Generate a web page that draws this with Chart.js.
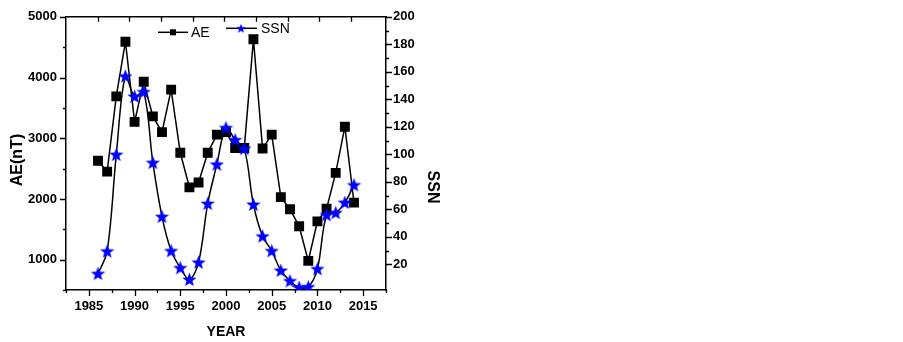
<!DOCTYPE html>
<html>
<head>
<meta charset="utf-8">
<script src="https://cdn.jsdelivr.net/npm/chart.js@4.4.0/dist/chart.umd.min.js"></script>
<style>
  html, body { margin: 0; padding: 0; background: #fff; }
  #wrap { width: 903px; height: 342px; position: relative; }
</style>
</head>
<body>
<div id="wrap"><canvas id="chart"></canvas></div>
<script>
// years 1986..2014
const years = [1986, 1987, 1988, 1989, 1990, 1991, 1992, 1993, 1994, 1995,
    1996, 1997, 1998, 1999, 2000, 2001, 2002, 2003, 2004, 2005,
    2006, 2007, 2008, 2009, 2010, 2011, 2012, 2013, 2014];

// AE index, nT (left axis)
const aeValues = [2630, 2450, 3690, 4590, 3270, 3930, 3360, 3100, 3800, 2760,
    2190, 2270, 2760, 3060, 3100, 2840, 2840, 4630, 2830, 3060,
    2030, 1830, 1550, 980, 1630, 1840, 2430, 3190, 1940];

// sunspot number (right axis)
const ssnValues = [13.2, 29.5, 99.8, 156.8, 142.1, 145.4, 93.9, 54.7, 29.8, 17.4,
    8.9, 21.4, 64.2, 92.7, 119.3, 110.5, 104.1, 63.5, 40.4, 29.8,
    15.5, 7.9, 3.2, 3.6, 16.7, 55.9, 57.5, 64.9, 77.7];

const xTickLabels = ['1985', '1990', '1995', '2000', '2005', '2010', '2015'];
const aeTickLabels = ['1000', '2000', '3000', '4000', '5000'];
const ssnTickLabels = ['20', '40', '60', '80', '100', '120', '140', '160', '180', '200'];

const FONT = "'Liberation Sans', Arial, sans-serif";

// синяя закрашенная звезда как pointStyle
function makeStar(size, color) {
    const c = document.createElement('canvas');
    c.width = size;
    c.height = size;
    const g = c.getContext('2d');
    const cx = size / 2, cy = size / 2 + 0.5;
    const outer = size / 2, inner = outer * 0.42;
    g.beginPath();
    for (let i = 0; i < 10; i++) {
        const r = i % 2 === 0 ? outer : inner;
        const a = -Math.PI / 2 + i * Math.PI / 5;
        const px = cx + r * Math.cos(a), py = cy + r * Math.sin(a);
        if (i === 0) g.moveTo(px, py); else g.lineTo(px, py);
    }
    g.closePath();
    g.fillStyle = color;
    g.fill();
    return c;
}

const starBig = makeStar(15, '#0000ff');
const starSmall = makeStar(10, '#0000ff');

const isMult = (v, m) => Math.abs(v / m - Math.round(v / m)) < 1e-6;

// засечки: внешние на левой/правой/нижней осях, внутренние сверху
const ticksPlugin = {
    id: 'axisTicks',
    afterDraw(chart) {
        const ctx = chart.ctx;
        const a = chart.chartArea;
        const { x, y, y1, x2 } = chart.scales;
        ctx.save();
        ctx.strokeStyle = '#000';
        ctx.lineWidth = 1.3;
        ctx.beginPath();
        x.ticks.forEach(t => {
            if (!isMult(t.value, 2.5)) return;
            const px = Math.round(x.getPixelForValue(t.value)) + 0.5;
            const len = isMult(t.value, 5) ? 6 : 3;
            ctx.moveTo(px, a.bottom);
            ctx.lineTo(px, a.bottom + len);
        });
        y.ticks.forEach(t => {
            if (!isMult(t.value, 500)) return;
            const py = Math.round(y.getPixelForValue(t.value)) + 0.5;
            const len = isMult(t.value, 1000) ? 6 : 3;
            ctx.moveTo(a.left, py);
            ctx.lineTo(a.left - len, py);
        });
        y1.ticks.forEach(t => {
            if (!isMult(t.value, 10)) return;
            const py = Math.round(y1.getPixelForValue(t.value)) + 0.5;
            const len = isMult(t.value, 20) ? 6 : 3;
            ctx.moveTo(a.right, py);
            ctx.lineTo(a.right + len, py);
        });
        x2.ticks.forEach(t => {
            if (!isMult(t.value, 1) || t.value < 0) return;
            const px = Math.round(x2.getPixelForValue(t.value)) + 0.5;
            ctx.moveTo(px, a.top);
            ctx.lineTo(px, a.top + 5);
        });
        ctx.stroke();
        ctx.restore();
    }
};

// легенда внутри области графика + подписи осей Y
const legendPlugin = {
    id: 'innerLegend',
    afterDraw(chart) {
        const ctx = chart.ctx;
        const a = chart.chartArea;
        ctx.save();
        ctx.strokeStyle = '#000';
        ctx.lineWidth = 1.5;
        ctx.fillStyle = '#000';
        ctx.font = '14px ' + FONT;
        ctx.textBaseline = 'middle';

        // AE
        let ly = a.top + 15.5;
        let lx = a.left + 92;
        ctx.beginPath();
        ctx.moveTo(lx, ly);
        ctx.lineTo(lx + 30, ly);
        ctx.stroke();
        ctx.fillRect(lx + 12, ly - 3, 6, 6);
        ctx.fillText(chart.data.datasets[1].label, lx + 33, ly + 1);

        // SSN
        ly = a.top + 11.5;
        lx = a.left + 160;
        ctx.beginPath();
        ctx.moveTo(lx, ly);
        ctx.lineTo(lx + 31, ly);
        ctx.stroke();
        ctx.drawImage(starSmall, lx + 10, ly - 5);
        ctx.fillText(chart.data.datasets[0].label, lx + 35, ly + 1);

        // подписи вертикальных осей
        ctx.font = 'bold 16px ' + FONT;
        ctx.textAlign = 'center';
        ctx.save();
        ctx.translate(18, 160);
        ctx.rotate(-Math.PI / 2);
        ctx.fillText('AE(nT)', 0, 0);
        ctx.restore();
        ctx.save();
        ctx.translate(432, 187);
        ctx.rotate(Math.PI / 2);
        ctx.fillText('SSN', 0, 0);
        ctx.restore();
        ctx.restore();
    }
};

const tickFont = { family: FONT, size: 13, weight: 'bold' };

new Chart(document.getElementById('chart'), {
    type: 'line',
    data: {
        datasets: [
            {
                label: 'SSN',
                data: years.map((yr, i) => ({ x: yr, y: ssnValues[i] })),
                yAxisID: 'y1',
                borderColor: '#000',
                borderWidth: 1.5,
                tension: 0.35,
                pointStyle: starBig,
                order: 1
            },
            {
                label: 'AE',
                data: years.map((yr, i) => ({ x: yr, y: aeValues[i] })),
                yAxisID: 'y',
                borderColor: '#000',
                backgroundColor: '#000',
                borderWidth: 1.5,
                tension: 0,
                pointStyle: 'rect',
                pointRadius: 7,
                pointBorderWidth: 0,
                order: 2
            }
        ]
    },
    options: {
        responsive: true,
        maintainAspectRatio: false,
        animation: false,
        layout: { padding: { top: 12, left: 0, right: 0, bottom: 0 } },
        plugins: {
            legend: { display: false },
            tooltip: { enabled: false }
        },
        scales: {
            x: {
                type: 'linear',
                position: 'bottom',
                min: 1982.5,
                max: 2017.5,
                afterFit(scale) { scale.height = 52; },
                grid: { display: true, drawOnChartArea: false, drawTicks: false },
                border: { display: true, color: '#000', width: 1.5 },
                ticks: {
                    stepSize: 2.5,
                    autoSkip: false,
                    maxRotation: 0,
                    padding: 9,
                    color: '#000',
                    font: tickFont,
                    callback: v => {
                        const s = String(v);
                        return xTickLabels.includes(s) ? s : '';
                    }
                },
                title: {
                    display: true,
                    text: 'YEAR',
                    color: '#000',
                    font: { family: FONT, size: 14, weight: 'bold' },
                    padding: { top: 0, bottom: 1 }
                }
            },
            x2: {
                type: 'linear',
                position: 'top',
                min: -1,
                max: 9.1,
                afterFit(scale) { scale.height = 0; },
                grid: { display: true, drawOnChartArea: false, drawTicks: false },
                border: { display: true, color: '#000', width: 1.5 },
                ticks: { display: false, stepSize: 1 }
            },
            y: {
                type: 'linear',
                position: 'left',
                min: 500,
                max: 5000,
                afterFit(scale) { scale.width = 66; },
                grid: { display: true, drawOnChartArea: false, drawTicks: false },
                border: { display: true, color: '#000', width: 1.5 },
                ticks: {
                    stepSize: 500,
                    autoSkip: false,
                    padding: 9,
                    color: '#000',
                    font: tickFont,
                    callback: v => {
                        const s = String(v);
                        return aeTickLabels.includes(s) ? s : '';
                    }
                }
            },
            y1: {
                type: 'linear',
                position: 'right',
                min: 1.3,
                max: 200,
                afterFit(scale) { scale.width = 903 - 386; },
                grid: { display: true, drawOnChartArea: false, drawTicks: false },
                border: { display: true, color: '#000', width: 1.5 },
                ticks: {
                    stepSize: 10,
                    autoSkip: false,
                    padding: 7,
                    color: '#000',
                    font: tickFont,
                    callback: v => {
                        const s = String(v);
                        return ssnTickLabels.includes(s) ? s : '';
                    }
                }
            }
        }
    },
    plugins: [ticksPlugin, legendPlugin]
});
</script>
</body>
</html>
